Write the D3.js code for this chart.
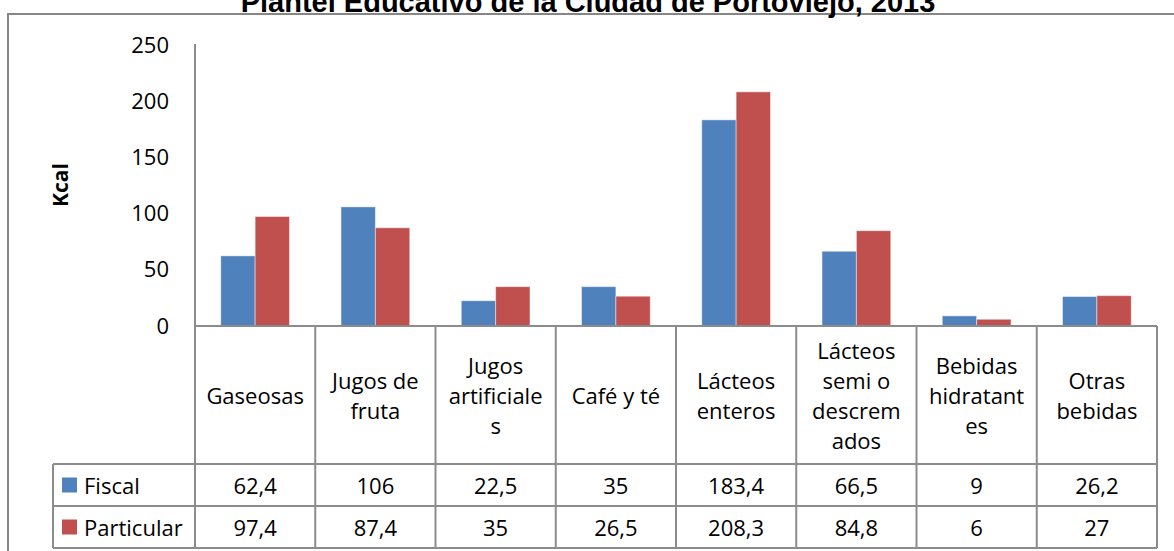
<!DOCTYPE html>
<html>
<head>
<meta charset="utf-8">
<script src="https://cdn.jsdelivr.net/npm/d3@7"></script>
<style>
  html, body { margin: 0; padding: 0; background: #fff; }
  svg { display: block; }
  text { font-family: 'Open Sans', sans-serif; fill: #000; }
</style>
</head>
<body>
<svg id="chart" width="1174" height="551"></svg>
<script>
// ---------- DATA ----------
const title = 'Plantel Educativo de la Ciudad de Portoviejo, 2013';
const categories = ['Gaseosas', 'Jugos de fruta', 'Jugos artificiales', 'Café y té',
  'Lácteos enteros', 'Lácteos semi o descremados', 'Bebidas hidratantes', 'Otras bebidas'];
// how each category label wraps inside its table cell
const categoryLines = [
  ['Gaseosas'],
  ['Jugos de', 'fruta'],
  ['Jugos', 'artificiale', 's'],
  ['Café y té'],
  ['Lácteos', 'enteros'],
  ['Lácteos', 'semi o', 'descrem', 'ados'],
  ['Bebidas', 'hidratant', 'es'],
  ['Otras', 'bebidas'],
];
const seriesNames = ['Fiscal', 'Particular'];
const fiscal = [62.4, 106, 22.5, 35, 183.4, 66.5, 9, 26.2];
const particular = [97.4, 87.4, 35, 26.5, 208.3, 84.8, 6, 27];
const yTicks = [0, 50, 100, 150, 200, 250];
const yLabel = 'Kcal';

const series = [fiscal, particular];
const colors = ['#4F81BD', '#C0504D'];
const gridColor = '#8c8c8c';

// ---------- LAYOUT ----------
const svg = d3.select('#chart');
const plotLeft = 195, plotRight = 1157;
const plotTop = 45, plotBottom = 326;
const rowLine1 = 464, rowLine2 = 506, tableBottom = 548;
const legendLeft = 53;

const x = d3.scaleBand().domain(categories).range([plotLeft, plotRight]);
const xs = d3.scaleBand().domain(seriesNames).range([0, x.bandwidth()]).paddingOuter(0.75);
const y = d3.scaleLinear().domain([0, 250]).range([plotBottom, plotTop]);

// chart frame
svg.append('rect')
  .attr('x', 8).attr('y', 14)
  .attr('width', 1200).attr('height', 600)
  .attr('fill', 'none')
  .attr('stroke', '#868686')
  .attr('stroke-width', 2);

// title (mostly cut off at the top)
svg.append('text')
  .attr('x', 588).attr('y', 12)
  .attr('text-anchor', 'middle')
  .style('font-family', "'Liberation Sans', Arial, sans-serif")
  .style('font-weight', 'bold')
  .style('font-size', '29px')
  .text(title);

// y axis labels
const yAxis = svg.append('g')
  .attr('transform', `translate(${plotLeft},0)`)
  .call(d3.axisLeft(y).tickValues(yTicks).tickSize(0).tickPadding(26));
yAxis.select('.domain').remove();
yAxis.selectAll('text')
  .style('font-family', "'Open Sans', sans-serif")
  .style('font-size', '22px')
  .attr('fill', '#000');

svg.append('text')
  .attr('transform', 'translate(60,185) rotate(-90)')
  .attr('text-anchor', 'middle')
  .attr('dominant-baseline', 'central')
  .style('font-weight', 'bold')
  .style('font-size', '21px')
  .text(yLabel);

// bars
series.forEach((vals, si) => {
  svg.append('g').selectAll('rect')
    .data(vals)
    .join('rect')
    .attr('x', (d, i) => x(categories[i]) + xs(seriesNames[si]))
    .attr('y', (d) => y(d))
    .attr('width', xs.bandwidth())
    .attr('height', (d) => y(0) - y(d))
    .attr('fill', colors[si])
    .attr('stroke', 'rgba(255,255,255,0.45)')
    .attr('stroke-width', 1);
});

// table / axis lines
const lines = svg.append('g')
  .attr('stroke', gridColor)
  .attr('stroke-width', 2)
  .attr('fill', 'none');

lines.append('line')
  .attr('x1', plotLeft).attr('x2', plotLeft)
  .attr('y1', plotTop - 1).attr('y2', tableBottom);
lines.append('line')
  .attr('x1', plotLeft).attr('x2', plotRight)
  .attr('y1', y(0)).attr('y2', y(0));
[rowLine1, rowLine2, tableBottom].forEach((ly) => {
  lines.append('line')
    .attr('x1', legendLeft).attr('x2', plotRight)
    .attr('y1', ly).attr('y2', ly);
});
lines.append('line')
  .attr('x1', legendLeft).attr('x2', legendLeft)
  .attr('y1', rowLine1).attr('y2', tableBottom);
categories.forEach((c) => {
  const xr = x(c) + x.bandwidth();
  lines.append('line')
    .attr('x1', xr).attr('x2', xr)
    .attr('y1', y(0)).attr('y2', tableBottom);
});

// category labels
const lineH = 30;
const catMid = (y(0) + rowLine1) / 2;
categories.forEach((c, i) => {
  const ls = categoryLines[i];
  const t = svg.append('text')
    .attr('text-anchor', 'middle')
    .style('font-size', '22px');
  ls.forEach((s, k) => {
    t.append('tspan')
      .attr('x', x(c) + x.bandwidth() / 2)
      .attr('y', catMid + (k - (ls.length - 1) / 2) * lineH)
      .attr('dominant-baseline', 'central')
      .text(s);
  });
});

// data rows
const fmt = (v) => String(v).replace('.', ',');
const rowMids = [(rowLine1 + rowLine2) / 2, (rowLine2 + tableBottom) / 2];
series.forEach((vals, si) => {
  svg.append('rect')
    .attr('x', 62).attr('y', rowMids[si] - 7.5)
    .attr('width', 15).attr('height', 15)
    .attr('fill', colors[si]);
  svg.append('text')
    .attr('x', 84).attr('y', rowMids[si])
    .attr('dominant-baseline', 'central')
    .style('font-size', '22px')
    .text(seriesNames[si]);
  svg.append('g').selectAll('text')
    .data(vals)
    .join('text')
    .attr('x', (d, i) => x(categories[i]) + x.bandwidth() / 2)
    .attr('y', rowMids[si])
    .attr('text-anchor', 'middle')
    .attr('dominant-baseline', 'central')
    .style('font-size', '22px')
    .text(fmt);
});
</script>
</body>
</html>
